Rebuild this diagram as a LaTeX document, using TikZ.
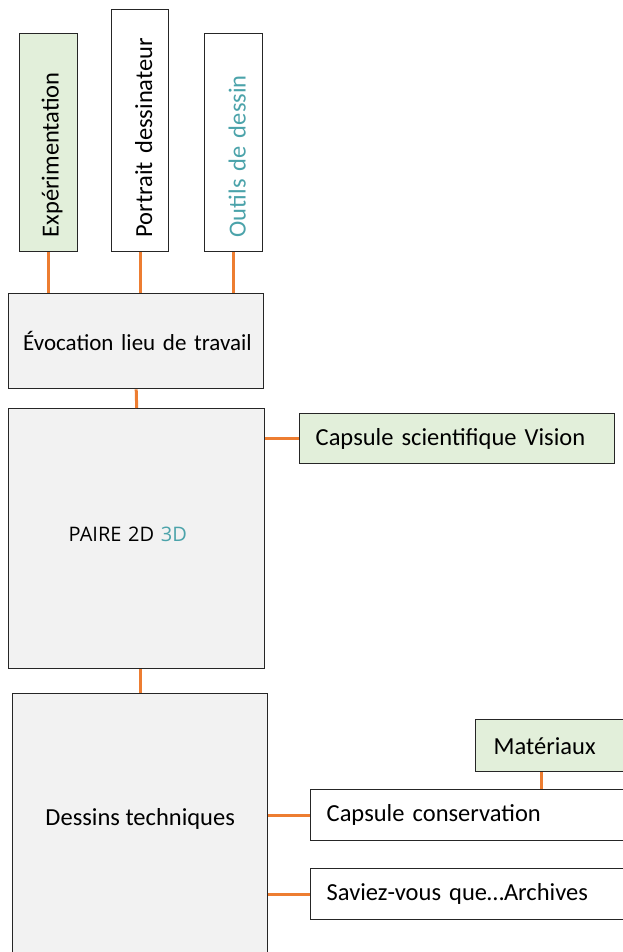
\documentclass[tikz,border=0pt]{standalone}
\usepackage{fontspec}
\setmainfont{Carlito}
\newfontfamily\paireFont{Open Sans}
\usepackage{tikz}
\usetikzlibrary{positioning}
\definecolor{linkorange}{RGB}{237,125,49}
\definecolor{boxgreen}{RGB}{226,239,218}
\definecolor{boxgrey}{RGB}{242,242,242}
\definecolor{tealtext}{RGB}{75,163,170}
\definecolor{boxline}{RGB}{38,38,38}

\begin{document}
\begin{tikzpicture}[x=1pt, y=-1pt,
		box/.style={draw=boxline, line width=1.4pt, anchor=north west, inner sep=0pt,
			font=\fontsize{24.5}{28}\selectfont},
		upbox/.style={box, rotate=90, align=left, inner xsep=14pt, text height=24pt},
		sidebox/.style={box, align=left, inner xsep=16pt},
		link/.style={draw=linkorange, line width=3pt}]
		\useasboundingbox (0,0) rectangle (623,952);
		\clip (0,0) rectangle (623,952);

			%top row:
			\node[upbox, fill=boxgreen, minimum width=218pt, minimum height=58pt, text width=190pt] (exp) at (19,252) {Expérimentation};
			\node[upbox, fill=white, minimum width=242pt, minimum height=57pt, text width=214pt] (port) at (111,252) {Portrait dessinateur};
			\node[upbox, fill=white, minimum width=218pt, minimum height=58pt, text width=190pt, text=tealtext] (outil) at (204,252) {Outils de dessin};

			%main column:
			\node[box, fill=boxgrey, minimum width=255pt, minimum height=95pt, align=right, inner xsep=12pt, text width=231pt, font=\fontsize{23}{27}\selectfont] (evo) at (8,293) {Évocation lieu de travail};
			\node[box, fill=boxgrey, minimum width=256pt, minimum height=260pt, align=left, inner xsep=60pt, text width=136pt, text depth=8pt, font=\paireFont\fontsize{20}{24}\selectfont] (paire) at (8,408) {PAIRE 2D \textcolor{tealtext}{3D}};
			\node[box, fill=boxgrey, minimum width=255pt, minimum height=270pt, text depth=23pt] (dess) at (12,693) {Dessins techniques};

			%right side:
			\node[sidebox, fill=boxgreen, minimum width=315pt, minimum height=50pt, text width=283pt] (caps) at (299,413) {Capsule scientifique Vision};
			\node[sidebox, fill=boxgreen, minimum width=170pt, minimum height=52pt, text width=134pt, inner xsep=18pt] (mat) at (475,719) {Matériaux};
			\node[sidebox, fill=white, minimum width=330pt, minimum height=51pt, text width=298pt] (cons) at (310,789) {Capsule conservation};
			\node[sidebox, fill=white, minimum width=330pt, minimum height=51pt, text width=298pt] (sav) at (310,868) {Saviez-vous que…Archives};

			%links:
			\draw[link] (exp.west) -- (exp.west |- evo.north);
			\draw[link] (port.west) -- (port.west |- evo.north);
			\draw[link] (outil.west) -- (outil.west |- evo.north);
			\draw[link] (evo.south) -- (paire.north);
			\draw[link] (paire.east |- caps.west) -- (caps.west);
			\draw[link] (dess.north |- paire.south) -- (dess.north);
			\draw[link] (dess.east |- cons.west) -- (cons.west);
			\draw[link] (dess.east |- sav.west) -- (sav.west);
			\draw[link] ([xshift=66pt]mat.south west) -- ([xshift=66pt]mat.south west |- cons.north);

	\end{tikzpicture}
\end{document}
